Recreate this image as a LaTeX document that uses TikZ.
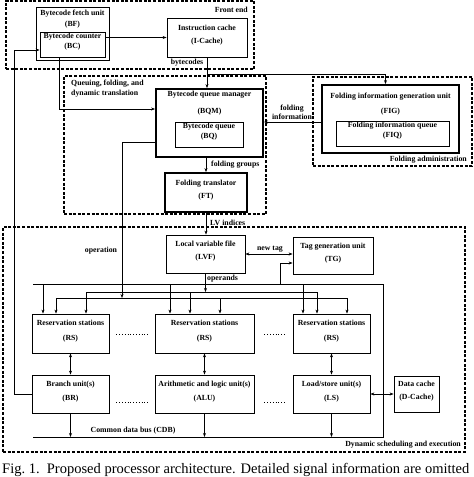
\documentclass[tikz,border=0pt]{standalone}
\usepackage{fontspec}
\setmainfont{Liberation Serif}
\usetikzlibrary{fit,arrows.meta}
\begin{document}
\begin{tikzpicture}[x=1pt,y=-1pt,
  lbl/.style={font=\fontsize{7.8}{12}\selectfont\bfseries, align=center, inner sep=0},
  sp/.style={font=\fontsize{7.8}{#1}\selectfont\bfseries},
  box/.style={draw, line width=0.8pt, inner sep=0, lbl},
  thickbox/.style={box, line width=1.8pt},
  region/.style={draw, dash pattern=on 3pt off 1.6pt, line width=1.3pt, inner sep=0},
  conn/.style={line width=0.8pt},
  arr/.style={conn, -{Stealth[length=4pt,width=3pt]}},
  darr/.style={conn, {Stealth[length=4pt,width=3pt]}-{Stealth[length=4pt,width=3pt]}},
  dotline/.style={line width=0.8pt, dash pattern=on 0.8pt off 2pt},
]
\useasboundingbox (0,0) rectangle (474,477);
% Front end
\node[region, fit={(6,1)(254,69)}] (FE) {};
\node[lbl, anchor=east] (FEl) at (248,10) {Front end};
\node[box, fit={(36,7)(109,60)}] (BF) {};
\node[lbl, sp=11] (BFl) at (72.5,19.5) {Bytecode fetch unit\\(BF)};
\node[box, sp=10.5, fit={(40,32)(105,57)}] (BC) {Bytecode counter\\(BC)};
\node[box, sp=13, fit={(167,18)(247,57)}] (IC) {Instruction cache\\(I-Cache)};
\node[lbl] (bytl) at (187,62.5) {bytecodes};
% Queuing
\node[region, fit={(64,76)(266,214)}] (QF) {};
\node[lbl, sp=10, anchor=north west, align=left] (QFl) at (71,79.5) {Queuing, folding, and\\dynamic translation};
\node[thickbox, fit={(156,89)(263,157)}] (BQM) {};
\node[lbl, sp=17] (BQMl) at (209.5,103.5) {Bytecode queue manager\\(BQM)};
\node[box, sp=10, fit={(175,122)(243,147)}] (BQ) {Bytecode queue\\(BQ)};
\node[lbl, anchor=west] (fgl) at (211,165) {folding groups};
\node[thickbox, sp=13, fit={(165,173)(247,212)}] (FT) {Folding translator\\(FT)};
\node[lbl, anchor=west] (lvl) at (210,223) {LV indices};
% Folding administration
\node[region, fit={(313,77)(472,166)}] (FA) {};
\node[lbl, anchor=east] (FAl) at (467,160) {Folding administration};
\node[thickbox, fit={(322,85)(459,153)}] (FIG) {};
\node[lbl, sp=15] (FIGl) at (390.5,104) {Folding information generation unit\\(FIG)};
\node[box, sp=10, fit={(336,121)(449,146)}] (FIQ) {Folding information queue\\(FIQ)};
\node[lbl, sp=9] (fil) at (292,112.5) {folding\\information};
% Dynamic scheduling
\node[region, fit={(3,227)(465,452)}] (DS) {};
\node[lbl, anchor=east] (DSl) at (461,445) {Dynamic scheduling and execution};
\node[box, sp=13, fit={(166,235)(245,273)}] (LVF) {Local variable file\\(LVF)};
\node[box, sp=13, fit={(293,237)(373,274)}] (TG) {Tag generation unit\\(TG)};
\node[box, sp=15, fit={(32,314)(109,353)}] (RS1) {Reservation stations\\(RS)};
\node[box, sp=15, fit={(155,314)(254,353)}] (RS2) {Reservation stations\\(RS)};
\node[box, sp=15, fit={(293,314)(370,353)}] (RS3) {Reservation stations\\(RS)};
\node[box, sp=14, fit={(32,375)(109,413)}] (BR) {Branch unit(s)\\(BR)};
\node[box, sp=14, fit={(155,375)(254,413)}] (ALU) {Arithmetic and logic unit(s)\\(ALU)};
\node[box, sp=14, fit={(293,375)(370,413)}] (LS) {Load/store unit(s)\\(LS)};
\node[box, sp=13, fit={(394,376)(439,412)}] (DC) {Data cache\\(D-Cache)};
\node[lbl] (opl) at (101,251) {operation};
\node[lbl, anchor=west] (opsl) at (207,279) {operands};
\node[lbl] (ntl) at (270,249) {new tag};
\node[lbl] (cdbl) at (133,431) {Common data bus (CDB)};
% front-end connectors
\draw[arr] (IC.west -| BC.east) -- (IC.west);
\draw[arr] (IC.south) -- (IC.south |- BQM.north);
\coordinate (j1) at (207,74);
\draw[arr] (j1) -| ([xshift=-5pt]FIG.north);
\draw[arr] (BC.south -| 59,0) |- (BQM.west |- 0,109);
\draw[arr] (BR.west) -- (BR.west -| 14,0) |- (BC.west |- 0,50);
\draw[arr] (FT.north |- BQM.south) -- (FT.north);
\draw[arr] (FT.south) -- (FT.south |- LVF.north);
\draw[arr] (FIG.west |- 0,122) -- (BQM.east |- 0,122);
\draw[darr] (LVF.east |- 0,254) -- (TG.west |- 0,254);
% buses
\coordinate (busL) at (33,284); \coordinate (busR) at (383,284);
\coordinate (cdbL) at (33,437); \coordinate (cdbR) at (383,437);
\coordinate (opAL) at (86,292); \coordinate (opAR) at (317,292);
\coordinate (opBL) at (56,298); \coordinate (opBR) at (347,298);
\draw[conn] (busL) -- (busR) -- (cdbR) -- (cdbL);
\draw[conn] (opAL) -- (opAR);
\draw[conn] (opBL) -- (opBR);
\draw[arr] (BQM.west |- 0,142) -| (122,298);
\draw[arr] (LVF.south) -- (LVF.south |- opAL);
\draw[arr] (280,284) |- (TG.west |- 0,263);
% into reservation stations
\draw[arr] (busL -| 43,0) -- (RS1.north -| 43,0);
\draw[arr] (opBL) -- (RS1.north -| opBL);
\draw[arr] (opAL) -- (RS1.north -| opAL);
\draw[arr] (busL -| 170,0) -- (RS2.north -| 170,0);
\draw[arr] (opAL -| 190,0) -- (RS2.north -| 190,0);
\draw[arr] (opBL -| 220,0) -- (RS2.north -| 220,0);
\draw[arr] (busL -| 303,0) -- (RS3.north -| 303,0);
\draw[arr] (opAR) -- (RS3.north -| opAR);
\draw[arr] (opBR) -- (RS3.north -| opBR);
% RS <-> units
\draw[darr] (RS1.south) -- (BR.north);
\draw[darr] (RS2.south) -- (ALU.north);
\draw[darr] (RS3.south) -- (LS.north);
\draw[darr] (LS.east |- 0,394) -- (DC.west |- 0,394);
\draw[arr] (BR.south) -- (BR.south |- cdbL);
\draw[arr] (ALU.south) -- (ALU.south |- cdbL);
\draw[arr] (LS.south) -- (LS.south |- cdbL);
% dots
\draw[dotline] ([xshift=7pt]RS1.east |- 0,334) -- ([xshift=-6pt]RS2.west |- 0,334);
\draw[dotline] ([xshift=10pt]RS2.east |- 0,334) -- ([xshift=-6pt]RS3.west |- 0,334);
\draw[dotline] ([xshift=7pt]BR.east |- 0,402) -- ([xshift=-6pt]ALU.west |- 0,402);
\draw[dotline] ([xshift=10pt]ALU.east |- 0,402) -- ([xshift=-6pt]LS.west |- 0,402);
% caption
\node[anchor=base west, inner sep=0, font=\fontsize{14.5}{16}\selectfont] (cap) at (2,473.5) {Fig.~1.\ \ Proposed processor architecture. Detailed signal information are omitted};
\end{tikzpicture}
\end{document}
